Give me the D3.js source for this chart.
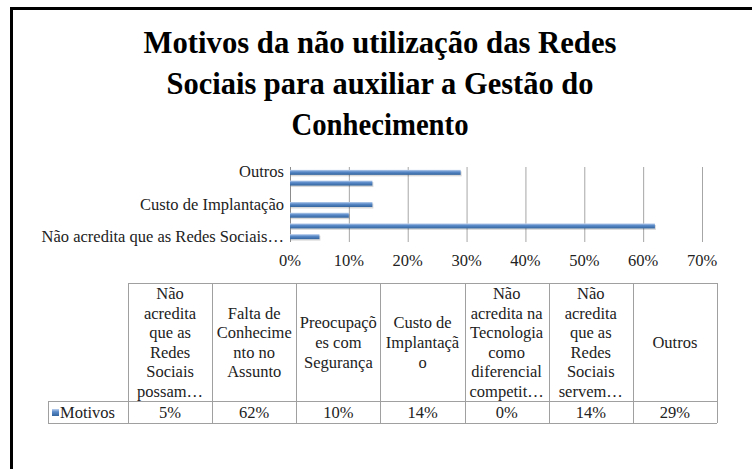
<!DOCTYPE html>
<html>
<head>
<meta charset="utf-8">
<script src="https://cdn.jsdelivr.net/npm/d3@7"></script>
<style>
  body { margin: 0; background: #fff; }
</style>
</head>
<body>
<script>
let width = 752;
let height = 469;
let serif = "'Liberation Serif'";

// data, bottom category first (Excel bar order)
let categories = [
    "Não acredita que as Redes Sociais…",
    "Falta de Conhecimento no Assunto",
    "Preocupações com Segurança",
    "Custo de Implantação",
    "Não acredita na Tecnologia como diferencial competit…",
    "Não acredita que as Redes Sociais servem…",
    "Outros"
];
let values = [0.05, 0.62, 0.10, 0.14, 0.00, 0.14, 0.29];
let headerLines = [
    ["Não", "acredita", "que as", "Redes", "Sociais", "possam…"],
    ["Falta de", "Conhecime", "nto no", "Assunto"],
    ["Preocupaçõ", "es com", "Segurança"],
    ["Custo de", "Implantaçã", "o"],
    ["Não", "acredita na", "Tecnologia", "como", "diferencial", "competit…"],
    ["Não", "acredita", "que as", "Redes", "Sociais", "servem…"],
    ["Outros"]
];
let axisLabelIdx = [0, 3, 6];
let xTicks = [0, 0.1, 0.2, 0.3, 0.4, 0.5, 0.6, 0.7];
let seriesName = "Motivos";
let titleLines = [
    "Motivos da não utilização das Redes",
    "Sociais para auxiliar a Gestão do",
    "Conhecimento"
];
let titleWidths = [473, 427, 177];

let svg = d3.select("body")
            .append("svg")
            .attr("width", width)
            .attr("height", height);

let defs = svg.append("defs");
let grad = defs.append("linearGradient")
    .attr("id", "barGrad")
    .attr("x1", 0).attr("y1", 0).attr("x2", 0).attr("y2", 1);
grad.append("stop").attr("offset", "0%").attr("stop-color", "#bcd1ee");
grad.append("stop").attr("offset", "40%").attr("stop-color", "#5b8bc9");
grad.append("stop").attr("offset", "100%").attr("stop-color", "#33649e");

// black frame (left and top only, as in the picture)
svg.append("path")
    .attr("d", "M11.5,469V8.5H752")
    .attr("fill", "none")
    .attr("stroke", "#000")
    .attr("stroke-width", 3);

// title
svg.append("g").selectAll("text")
    .data(titleLines)
    .join("text")
    .attr("x", 380)
    .attr("y", (d, i) => 53 + i * 41)
    .attr("text-anchor", "middle")
    .attr("textLength", (d, i) => titleWidths[i])
    .attr("lengthAdjust", "spacingAndGlyphs")
    .style("font-family", serif)
    .style("font-size", "31px")
    .style("font-weight", "bold")
    .style("fill", "#000")
    .text(d => d);

// plot area
let plotLeft = 290, plotRight = 702, plotTop = 167, plotBottom = 242;

let x = d3.scaleLinear()
    .domain([0, 0.7])
    .range([plotLeft, plotRight]);

let y = d3.scaleBand()
    .domain(d3.range(categories.length).reverse())
    .range([plotTop, plotBottom]);

// gridlines
svg.append("g").selectAll("line")
    .data(xTicks.slice(1))
    .join("line")
    .attr("x1", d => x(d) + 0.5).attr("x2", d => x(d) + 0.5)
    .attr("y1", plotTop).attr("y2", plotBottom)
    .style("stroke", "#a6a6a6")
    .style("stroke-width", 1);

// vertical category axis
svg.append("line")
    .attr("x1", plotLeft + 0.5).attr("x2", plotLeft + 0.5)
    .attr("y1", plotTop).attr("y2", plotBottom)
    .style("stroke", "#8c8c8c");

// x tick labels
svg.append("g").selectAll("text")
    .data(xTicks)
    .join("text")
    .attr("x", d => x(d))
    .attr("y", 266)
    .attr("text-anchor", "middle")
    .style("font-family", serif)
    .style("font-size", "16.5px")
    .style("fill", "#222")
    .text(d => d3.format(".0%")(d));

// category labels (every third)
svg.append("g").selectAll("text")
    .data(axisLabelIdx)
    .join("text")
    .attr("x", 284)
    .attr("y", d => y(d) + y.bandwidth() / 2 + 5)
    .attr("text-anchor", "end")
    .style("font-family", serif)
    .style("font-size", "16.5px")
    .style("fill", "#222")
    .text(d => categories[d]);

// bars
let barH = 5;
let bars = svg.append("g");
bars.selectAll("rect.shadow")
    .data(values)
    .join("rect")
    .attr("class", "shadow")
    .attr("x", plotLeft + 1)
    .attr("y", (d, i) => y(i) + y.bandwidth() / 2 - barH / 2 + 1.5)
    .attr("width", d => Math.max(0, x(d) - plotLeft))
    .attr("height", barH)
    .style("fill", "#000")
    .style("opacity", d => d > 0 ? 0.15 : 0);
bars.selectAll("rect.bar")
    .data(values)
    .join("rect")
    .attr("class", "bar")
    .attr("x", plotLeft)
    .attr("y", (d, i) => y(i) + y.bandwidth() / 2 - barH / 2)
    .attr("width", d => x(d) - plotLeft)
    .attr("height", barH)
    .style("fill", "url(#barGrad)");

// data table
let tableLeft = 128, tableRight = 717;
let headTop = 283, rowTop = 401, rowBottom = 423, keyLeft = 48;

let col = d3.scaleBand()
    .domain(d3.range(categories.length))
    .range([tableLeft, tableRight]);

let tbl = svg.append("g");
let gridStroke = "#a0a0a0";

// horizontal rules
tbl.append("line").attr("x1", tableLeft).attr("x2", tableRight)
    .attr("y1", headTop + 0.5).attr("y2", headTop + 0.5).style("stroke", gridStroke);
tbl.append("line").attr("x1", keyLeft).attr("x2", tableRight)
    .attr("y1", rowTop + 0.5).attr("y2", rowTop + 0.5).style("stroke", gridStroke);
tbl.append("line").attr("x1", keyLeft).attr("x2", tableRight)
    .attr("y1", rowBottom + 0.5).attr("y2", rowBottom + 0.5).style("stroke", gridStroke);

// vertical rules
let colEdges = d3.range(categories.length + 1).map(i => i < categories.length ? col(i) : tableRight);
tbl.selectAll("line.v")
    .data(colEdges)
    .join("line")
    .attr("class", "v")
    .attr("x1", d => Math.round(d) + 0.5).attr("x2", d => Math.round(d) + 0.5)
    .attr("y1", headTop).attr("y2", rowBottom)
    .style("stroke", gridStroke);
tbl.append("line")
    .attr("x1", keyLeft + 0.5).attr("x2", keyLeft + 0.5)
    .attr("y1", rowTop).attr("y2", rowBottom)
    .style("stroke", gridStroke);

// header texts
let lineH = 19.6;
let headMid = (headTop + rowTop) / 2;
let heads = tbl.selectAll("g.head")
    .data(headerLines)
    .join("g")
    .attr("class", "head");
heads.selectAll("text")
    .data((d, i) => d.map((t, j) => ({t: t, j: j, n: d.length, i: i})))
    .join("text")
    .attr("x", d => col(d.i) + col.bandwidth() / 2)
    .attr("y", d => headMid + (d.j - (d.n - 1) / 2) * lineH + 6)
    .attr("text-anchor", "middle")
    .style("font-family", serif)
    .style("font-size", "16.5px")
    .style("fill", "#222")
    .text(d => d.t);

// value row
tbl.selectAll("text.val")
    .data(values)
    .join("text")
    .attr("class", "val")
    .attr("x", (d, i) => col(i) + col.bandwidth() / 2)
    .attr("y", (rowTop + rowBottom) / 2 + 6)
    .attr("text-anchor", "middle")
    .style("font-family", serif)
    .style("font-size", "16.5px")
    .style("fill", "#222")
    .text(d => d3.format(".0%")(d));

// legend key + series name
tbl.append("rect")
    .attr("x", keyLeft + 4).attr("y", (rowTop + rowBottom) / 2 - 3)
    .attr("width", 7).attr("height", 7)
    .style("fill", "url(#barGrad)");
tbl.append("text")
    .attr("x", keyLeft + 12)
    .attr("y", (rowTop + rowBottom) / 2 + 6)
    .style("font-family", serif)
    .style("font-size", "16.5px")
    .style("fill", "#222")
    .text(seriesName);
</script>
</body>
</html>
